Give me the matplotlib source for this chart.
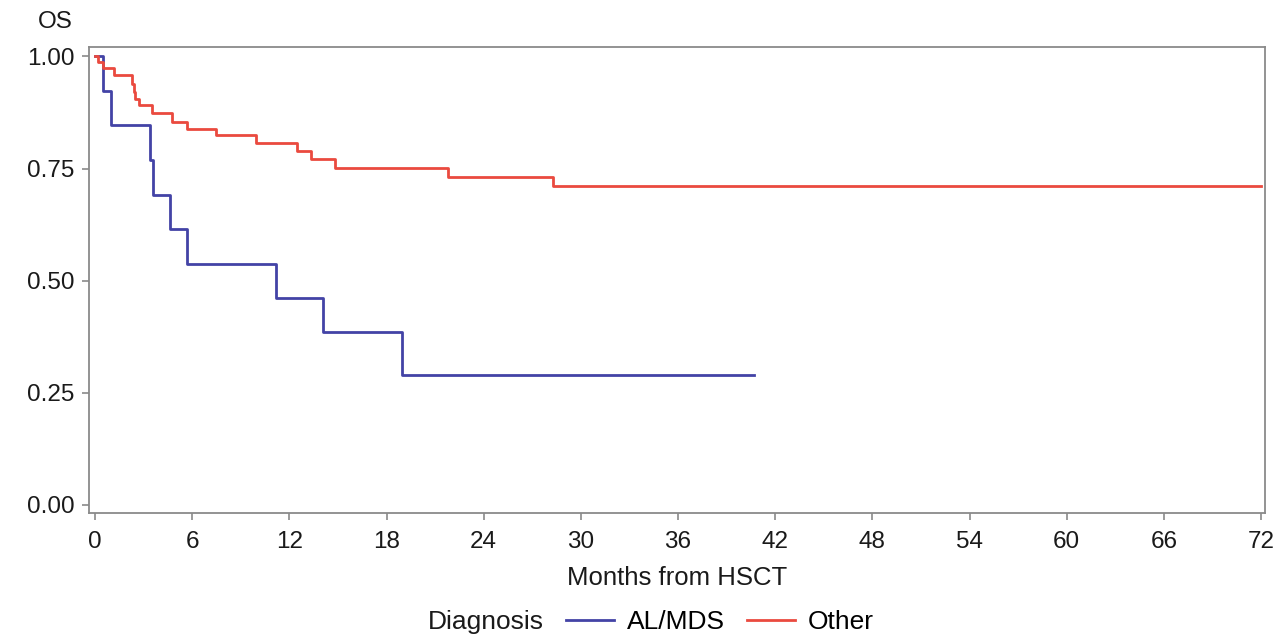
import matplotlib
matplotlib.use("Agg")
import matplotlib.pyplot as plt

plt.rcParams["font.family"] = ["Liberation Sans", "DejaVu Sans"]

# Kaplan-Meier steps (months, survival)
almds_months = [0, 0.5, 1.0, 3.4, 3.55, 4.63, 5.7, 11.18, 14.1, 18.94, 40.7]
almds_os = [1.0, 0.923, 0.846, 0.769, 0.692, 0.615, 0.538, 0.462, 0.385, 0.289, 0.289]

other_months = [0, 0.15, 0.5, 1.15, 2.27, 2.38, 2.48, 2.7, 3.5, 4.74, 5.7,
                7.46, 9.94, 12.46, 13.32, 14.82, 21.82, 28.3, 72]
other_os = [1.0, 0.987, 0.973, 0.958, 0.939, 0.92, 0.906, 0.891, 0.874, 0.854, 0.839,
            0.824, 0.806, 0.788, 0.772, 0.752, 0.731, 0.710, 0.710]

x_ticks = list(range(0, 73, 6))
y_ticks = [0.0, 0.25, 0.5, 0.75, 1.0]

BLUE = "#4343a6"
RED = "#ea4a3f"
GREY = "#8a8a8a"
TEXT = "#1a1a1a"

fig = plt.figure(figsize=(12.76, 6.39), dpi=100)
ax = fig.add_axes([0.0701, 0.1972, 0.9213, 0.73])

l1, = ax.step(almds_months, almds_os, where="post", color=BLUE, lw=2.0, label="AL/MDS")
l2, = ax.step(other_months, other_os, where="post", color=RED, lw=2.0, label="Other")

ax.set_xlim(-0.35, 72.25)
ax.set_ylim(-0.018, 1.022)
ax.set_xticks(x_ticks)
ax.set_yticks(y_ticks)
ax.set_yticklabels([f"{v:.2f}" for v in y_ticks])

for sp in ax.spines.values():
    sp.set_color(GREY)
    sp.set_linewidth(1.3)
ax.tick_params(axis="both", colors=GREY, length=5, width=1.2, labelsize=17.5,
               labelcolor=TEXT, pad=6)
ax.tick_params(axis="x", pad=8)

ax.set_xlabel("Months from HSCT", fontsize=18.5, color=TEXT, labelpad=9)
fig.text(55 / 1276, 1 - 22 / 639, "OS", fontsize=17.5, color=TEXT,
         ha="center", va="center")

fig.text(486 / 1276, 1 - 622 / 639, "Diagnosis", fontsize=19, color=TEXT,
         ha="center", va="center")
fig.legend(handles=[l1, l2], loc="center left", bbox_to_anchor=(566 / 1276, 1 - 622 / 639),
           ncol=2, frameon=False, fontsize=19, handlelength=1.8, handletextpad=0.5,
           columnspacing=0.85, borderpad=0, borderaxespad=0)

fig.savefig("out.png", dpi=100)
